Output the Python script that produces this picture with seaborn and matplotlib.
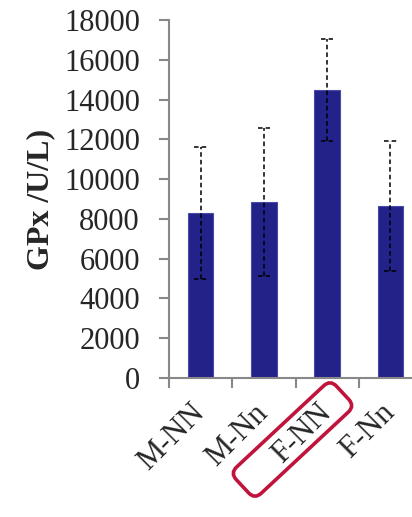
import numpy as np
import pandas as pd
import seaborn as sns
import matplotlib
matplotlib.use("Agg")
import matplotlib.pyplot as plt
import matplotlib.transforms as mtransforms
from matplotlib.patches import FancyBboxPatch

categories = ["M-NN", "M-Nn", "F-NN", "F-Nn"]
values = [8300, 8850, 14480, 8650]
errors = [3300, 3740, 2550, 3280]
y_ticks = [0, 2000, 4000, 6000, 8000, 10000, 12000, 14000, 16000, 18000]

sns.set_style("white")
plt.rcParams['font.family'] = ['Liberation Serif', 'DejaVu Serif']

fig = plt.figure(figsize=(4.12, 5.17), dpi=100)
ax = fig.add_axes([169/412, 139/517, 253/412, 358/517])

df = pd.DataFrame({"cat": categories, "val": values})
sns.barplot(data=df, x="cat", y="val", color="#222288", width=0.4,
            errorbar=None, ax=ax, saturation=1, edgecolor="#4a4aa8", linewidth=0.8)

x = np.arange(len(categories))
v = np.array(values)
e = np.array(errors)
ax.vlines(x, v - e, v + e, colors="black", linestyles=(0, (3, 2)), linewidth=1.1, zorder=5)
ax.hlines(v + e, x - 0.1, x + 0.1, colors="black", linestyles=(0, (3, 2)), linewidth=1.1, zorder=5)
ax.hlines(v - e, x - 0.1, x + 0.1, colors="black", linestyles=(0, (3, 2)), linewidth=1.1, zorder=5)

ax.set_xlim(-0.5, 3.5)
ax.set_ylim(0, 18000)
ax.set_yticks(y_ticks)
ax.set_yticklabels([str(t) for t in y_ticks], fontsize=22)

ax.set_xticks(np.arange(-0.5, 4.0, 1.0))
ax.set_xticklabels([])
ax.set_xticks(x, minor=True)
ax.set_xticklabels(categories, minor=True, fontsize=22, rotation=45,
                   ha="right", va="center", rotation_mode="anchor")
ax.tick_params(axis="x", which="minor", length=0, pad=22)
ax.tick_params(axis="x", which="major", length=7, width=1.5, color="#888888", direction="out", bottom=True)
ax.tick_params(axis="y", length=7, width=1.5, color="#888888", direction="out", left=True, pad=14)

for s in ["top", "right"]:
    ax.spines[s].set_visible(False)
for s in ["left", "bottom"]:
    ax.spines[s].set_color("#888888")
    ax.spines[s].set_linewidth(1.5)

ax.set_xlabel("")
ax.set_ylabel("GPx /U/L)", fontsize=23, fontweight="bold", labelpad=6)

# red rounded highlight box around F-NN
cx, cy = 2.925, (517 - 439.5) / 100
w, h = 1.37, 0.36
tr = mtransforms.Affine2D().rotate_deg_around(cx, cy, 43) + fig.dpi_scale_trans
box = FancyBboxPatch((cx - w / 2, cy - h / 2), w, h,
                     boxstyle="round,pad=0,rounding_size=0.09",
                     fill=False, edgecolor="#C0143C", linewidth=2.6,
                     transform=tr, clip_on=False)
fig.patches.append(box)

fig.savefig("out.png", dpi=100)
